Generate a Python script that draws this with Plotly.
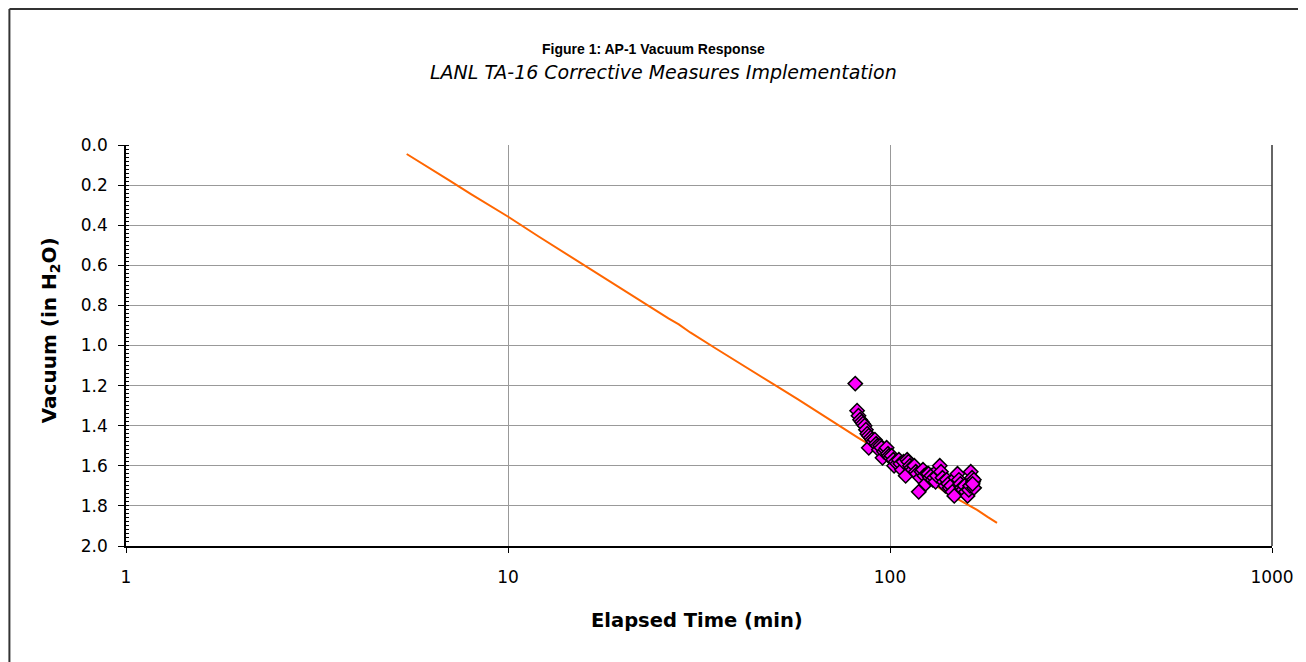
import plotly.graph_objects as go

# Fitted/model curve (orange line)
line_time = [5.43, 6.0, 7.0, 8.0, 9.0, 9.94, 12.0, 15.3, 17.95, 20.6, 23.5, 26.3, 28.0,
             30.0, 35.0, 40.0, 45.0, 50.0, 57.3, 62.0, 68.7, 75.0, 82.2, 90.0, 98.4,
             108.0, 117.9, 130.0, 141.0, 155.0, 169.0, 180.0, 190.6]
line_vac = [0.045, 0.095, 0.175, 0.245, 0.305, 0.354, 0.455, 0.582, 0.668, 0.74, 0.81, 0.865, 0.895,
            0.935, 1.015, 1.085, 1.145, 1.198, 1.267, 1.31, 1.365, 1.41, 1.458, 1.505, 1.548,
            1.595, 1.636, 1.69, 1.736, 1.78, 1.82, 1.855, 1.885]

# Observed data (magenta diamonds)
obs_time = [81.1, 82.0, 82.7, 83.5, 84.3, 85.0, 85.8, 86.5, 87.2, 88.0, 88.0, 89.0, 89.8,
            90.5, 91.3, 92.0, 92.8, 93.5, 94.3, 95.0, 95.6, 96.5, 97.3, 98.0, 98.8, 99.5,
            100.3, 101.0, 102.0, 102.5, 103.5, 104.5, 105.5, 106.5, 107.5, 108.5, 109.9,
            110.9, 111.8, 112.8, 113.8, 114.8, 115.8, 116.8, 117.8, 118.9, 120.0, 121.0,
            122.0, 123.0, 124.0, 125.0, 126.1, 127.2, 128.3, 129.4, 130.5, 131.6, 132.7,
            133.8, 135.0, 136.0, 137.2, 138.4, 139.6, 140.8, 142.0, 143.2, 144.4, 145.6,
            147.3, 148.5, 150.2, 151.5, 152.8, 154.1, 155.4, 156.7, 158.0, 159.6, 160.8,
            162.0, 162.7, 164.0, 165.0, 165.8, 166.0, 164.5]
obs_vac = [1.19, 1.325, 1.35, 1.37, 1.38, 1.39, 1.40, 1.42, 1.44, 1.45, 1.51, 1.46, 1.47,
           1.48, 1.47, 1.49, 1.50, 1.52, 1.50, 1.51, 1.56, 1.53, 1.52, 1.51, 1.54, 1.55,
           1.56, 1.55, 1.57, 1.60, 1.58, 1.59, 1.57, 1.59, 1.62, 1.58, 1.65,
           1.57, 1.58, 1.60, 1.61, 1.62, 1.60, 1.63, 1.64, 1.73, 1.66, 1.63,
           1.62, 1.65, 1.69, 1.64, 1.64, 1.66, 1.65, 1.67, 1.66, 1.68, 1.65,
           1.62, 1.60, 1.63, 1.66, 1.68, 1.70, 1.67, 1.69, 1.71, 1.70, 1.73,
           1.75, 1.66, 1.64, 1.67, 1.69, 1.71, 1.72, 1.70, 1.73, 1.75, 1.72,
           1.70, 1.63, 1.66, 1.68, 1.67, 1.71, 1.69]

x_ticks = [1, 10, 100, 1000]
y_ticks = [0.0, 0.2, 0.4, 0.6, 0.8, 1.0, 1.2, 1.4, 1.6, 1.8, 2.0]

title_text = "Figure 1: AP-1 Vacuum Response"
subtitle_text = "LANL TA-16 Corrective Measures Implementation"
x_title = "Elapsed Time (min)"
y_title = "Vacuum (in H<sub>2</sub>O)"

ARIAL = "Liberation Sans, Arial, sans-serif"
WIDE = "DejaVu Sans, Verdana, sans-serif"

fig = go.Figure()
fig.add_trace(go.Scatter(
    x=line_time, y=line_vac, mode="lines",
    line=dict(color="#FF6600", width=2), showlegend=False, hoverinfo="skip"))
fig.add_trace(go.Scatter(
    x=obs_time, y=obs_vac, mode="markers",
    marker=dict(symbol="diamond", size=11, color="#FF00FF",
                line=dict(color="#000000", width=1.5)),
    showlegend=False))

# page has an 8px body margin; figure coordinates below are page coords minus 8
W, H = 1298, 654
L, R, T, B = 118, 30, 137, 116
pw, ph = W - L - R, H - T - B

def px_x(p):
    return (p - L) / pw

def px_y(p):
    return (H - B - p) / ph

fig.update_layout(
    width=W, height=H,
    margin=dict(l=L, r=R, t=T, b=B),
    paper_bgcolor="white", plot_bgcolor="white",
    font=dict(family=WIDE, size=17, color="black"),
    showlegend=False,
    xaxis=dict(
        type="log", range=[0, 3],
        tickvals=x_ticks, ticktext=[str(v) for v in x_ticks],
        ticks="outside", ticklen=5, tickcolor="black",
        ticklabelstandoff=10,
        showgrid=True, gridcolor="#999999", gridwidth=1,
        showline=True, linecolor="black", linewidth=2,
        zeroline=False,
        tickfont=dict(family=WIDE, size=17),
    ),
    yaxis=dict(
        range=[2.0, 0.0],
        tickvals=y_ticks, ticktext=[f"{v:.1f}" for v in y_ticks],
        ticks="outside", ticklen=6, tickcolor="black",
        ticklabelstandoff=7,
        showgrid=True, gridcolor="#999999", gridwidth=1,
        showline=True, linecolor="black", linewidth=1.5,
        zeroline=False,
        minor=dict(dtick=0.02, ticks="inside", ticklen=3, tickcolor="black", showgrid=False),
        tickfont=dict(family=WIDE, size=17),
    ),
    annotations=[
        dict(text="<b>" + title_text + "</b>", xref="paper", yref="paper",
             x=px_x(647), y=px_y(41), xanchor="center", yanchor="middle",
             showarrow=False, font=dict(family=ARIAL, size=14)),
        dict(text="<i>" + subtitle_text + "</i>", xref="paper", yref="paper",
             x=px_x(657), y=px_y(64), xanchor="center", yanchor="middle",
             showarrow=False, font=dict(family=WIDE, size=19)),
        dict(text="<b>" + x_title + "</b>", xref="paper", yref="paper",
             x=px_x(691), y=px_y(612), xanchor="center", yanchor="middle",
             showarrow=False, font=dict(family=WIDE, size=19.5)),
        dict(text="<b>" + y_title + "</b>", xref="paper", yref="paper",
             x=px_x(42), y=px_y(322), xanchor="center", yanchor="middle",
             textangle=-90, showarrow=False, font=dict(family=WIDE, size=20)),
    ],
    shapes=[
        # outer chart border (top and left visible)
        dict(type="line", xref="paper", yref="paper",
             x0=px_x(1), y0=px_y(1), x1=px_x(W + 5), y1=px_y(1),
             line=dict(color="#333333", width=2)),
        dict(type="line", xref="paper", yref="paper",
             x0=px_x(1), y0=px_y(1), x1=px_x(1), y1=px_y(H + 5),
             line=dict(color="#333333", width=2)),
        # plot frame right edge
        dict(type="line", xref="paper", yref="paper",
             x0=1, y0=0, x1=1, y1=1, line=dict(color="#333333", width=1.5)),
    ],
)

fig.write_html("out.html")
